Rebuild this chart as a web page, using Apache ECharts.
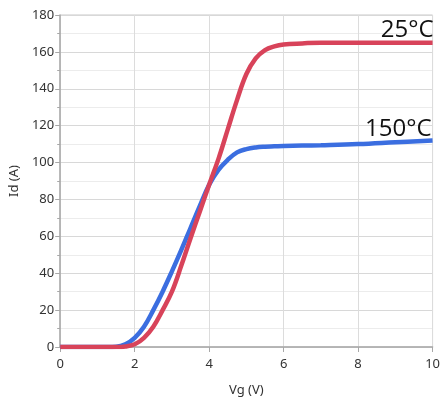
<!DOCTYPE html>
<html>
<head>
<meta charset="utf-8">
<script src="https://cdn.jsdelivr.net/npm/echarts@6/dist/echarts.min.js"></script>
<style>
  html, body { margin: 0; padding: 0; background: #fff; }
  #chart { width: 443px; height: 403px; }
</style>
</head>
<body>
<div id="chart"></div>
<script>
// Gate voltage (V) sample points
const vg = [0, 1, 1.5, 1.75, 2, 2.25, 2.5, 2.75, 3, 3.25, 3.5, 3.75, 4, 4.25, 4.5, 4.75, 5, 5.25, 5.5, 5.75, 6, 6.5, 7, 8, 9, 10];
// Drain current (A) at 25 °C
const id25 = [0, 0, 0, 0.3, 1.5, 5, 11, 20, 30, 44, 59, 73.5, 88, 102, 118, 134, 148, 156.5, 161, 163, 164, 164.6, 165, 165, 165, 165];
// Drain current (A) at 150 °C
const id150 = [0, 0, 0.2, 1.5, 5, 11, 20, 30, 41, 52.5, 64.5, 76.5, 88, 96, 101.5, 105.5, 107.3, 108.2, 108.6, 108.8, 109, 109.2, 109.4, 110, 111, 112];
const seriesNames = ['25°C', '150°C'];
const seriesColors = ['#d8435a', '#3b6ee0'];

const chart = echarts.init(document.getElementById('chart'));
const pairs = (ys) => vg.map((x, i) => [x, ys[i]]);
const tagStyle = { fontFamily: 'Open Sans', fontSize: 24, color: '#111' };

chart.setOption({
  animation: false,
  grid: { left: 59, right: 7, top: 15, bottom: 56, show: true, borderColor: '#c8c8c8', borderWidth: 1 },
  xAxis: {
    type: 'value', min: 0, max: 10, interval: 2,
    name: 'Vg (V)', nameLocation: 'middle', nameGap: 37,
    nameTextStyle: { fontFamily: 'Noto Sans', fontSize: 13, color: '#333' },
    axisLine: { lineStyle: { color: '#a8a8a8', width: 1.5 } },
    axisTick: { show: true, length: 5, lineStyle: { color: '#a8a8a8' } },
    axisLabel: { fontFamily: 'Noto Sans', fontSize: 13, color: '#333', margin: 11 },
    splitLine: { show: true, lineStyle: { color: '#dcdcdc', width: 1 } }
  },
  yAxis: {
    type: 'value', min: 0, max: 180, interval: 20,
    name: 'Id (A)', nameLocation: 'middle', nameGap: 39, nameRotate: 90,
    nameTextStyle: { fontFamily: 'Noto Sans', fontSize: 13, color: '#333' },
    axisLine: { show: true, lineStyle: { color: '#a8a8a8', width: 1.5 } },
    axisTick: { show: true, length: 5, lineStyle: { color: '#a8a8a8' } },
    minorTick: { show: true, splitNumber: 2, length: 3, lineStyle: { color: '#a8a8a8' } },
    axisLabel: { fontFamily: 'Noto Sans', fontSize: 13, color: '#333', margin: 6 },
    splitLine: { show: true, lineStyle: { color: '#d8d8d8', width: 1.2 } },
    minorSplitLine: { show: true, lineStyle: { color: '#ececec', width: 1 } }
  },
  series: [
    {
      name: seriesNames[0], type: 'line', data: pairs(id25), smooth: 0.4,
      showSymbol: false, lineStyle: { color: seriesColors[0], width: 4.5 }, z: 3,
      markPoint: {
        symbol: 'circle', symbolSize: 0, data: [{ coord: [10, 165] }],
        label: Object.assign({ show: true, formatter: seriesNames[0], position: 'left', offset: [6, -13] }, tagStyle)
      }
    },
    {
      name: seriesNames[1], type: 'line', data: pairs(id150), smooth: 0.4,
      showSymbol: false, lineStyle: { color: seriesColors[1], width: 4.5 }, z: 2,
      markPoint: {
        symbol: 'circle', symbolSize: 0, data: [{ coord: [10, 112] }],
        label: Object.assign({ show: true, formatter: seriesNames[1], position: 'left', offset: [4, -11] }, tagStyle)
      }
    }
  ]
});
</script>
</body>
</html>
